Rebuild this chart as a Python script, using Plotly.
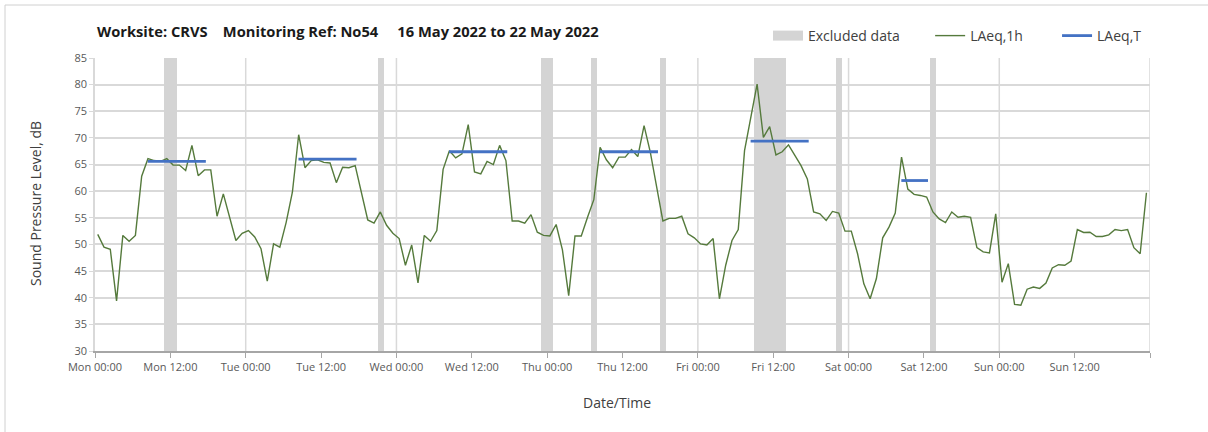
import plotly.graph_objects as go

# ---------------- data ----------------
day_names = ["Mon", "Tue", "Wed", "Thu", "Fri", "Sat", "Sun"]

# LAeq,1h values, one list per day (hours 00..23)
laeq_mon = [51.9, 49.5, 49.1, 39.4, 51.7, 50.6, 51.7, 62.8, 66.1, 65.75, 65.6, 66.1,
            64.9, 64.9, 63.9, 68.6, 62.9, 64.0, 64.0, 55.3, 59.5, 55.1, 50.75, 52.1]
laeq_tue = [52.6, 51.4, 49.2, 43.1, 50.1, 49.5, 54.1, 59.8, 70.6, 64.4, 65.75, 65.9,
            65.4, 65.3, 61.6, 64.5, 64.4, 64.8, 59.5, 54.6, 54.0, 56.1, 53.6, 52.1]
laeq_wed = [51.1, 46.1, 49.9, 42.8, 51.7, 50.6, 52.6, 64.1, 67.6, 66.25, 67.0, 72.5,
            63.6, 63.25, 65.6, 65.0, 68.6, 65.75, 54.4, 54.4, 54.0, 55.6, 52.3, 51.7]
laeq_thu = [51.6, 53.75, 49.0, 40.4, 51.6, 51.6, 55.1, 58.4, 68.25, 65.9, 64.4, 66.4,
            66.4, 67.8, 66.5, 72.3, 67.3, 60.75, 54.4, 54.9, 54.9, 55.3, 52.0, 51.25]
laeq_fri = [50.1, 49.9, 51.1, 39.8, 46.1, 50.75, 52.8, 67.6, 73.9, 80.1, 70.1, 72.1,
            66.8, 67.4, 68.7, 66.7, 64.8, 62.3, 56.1, 55.75, 54.5, 56.2, 55.9, 52.5]
laeq_sat = [52.5, 48.25, 42.6, 39.8, 43.6, 51.25, 53.25, 55.9, 66.4, 60.4, 59.4, 59.2,
            58.9, 56.1, 54.8, 54.1, 56.1, 55.1, 55.3, 55.1, 49.4, 48.6, 48.4, 55.75]
laeq_sun = [42.9, 46.4, 38.75, 38.6, 41.6, 42.0, 41.75, 42.75, 45.6, 46.2, 46.1, 46.9,
            52.8, 52.25, 52.3, 51.5, 51.5, 51.8, 52.8, 52.6, 52.8, 49.4, 48.25, 59.7]
reading_minute = 26  # readings are stamped ~26 min past each hour

# LAeq,T per monitored day (Mon..Sat) and its period (hours of the day)
laeq_t = [65.6, 66.0, 67.4, 67.4, 69.4, 62.0]
period_start_h = [8.4, 8.4, 8.4, 8.4, 8.4, 8.4]
period_end_h = [17.65, 17.65, 17.65, 17.65, 17.65, 12.65]

# Excluded data periods (hours from Mon 00:00)
excl_start_h = [11, 45, 71, 79, 90, 105, 118, 133]
excl_end_h = [13, 46, 73, 80, 91, 110, 119, 134]

y_min, y_max = 30, 85
tick_hours = ["00:00", "12:00"]

# ---------------- build ----------------
all_days = [laeq_mon, laeq_tue, laeq_wed, laeq_thu, laeq_fri, laeq_sat, laeq_sun]
x_1h, y_1h = [], []
for d, vals in enumerate(all_days):
    for h, v in enumerate(vals):
        x_1h.append(d * 24 + h + reading_minute / 60)
        y_1h.append(v)

x_t, y_t = [], []
for d, v in enumerate(laeq_t):
    x_t += [d * 24 + period_start_h[d], d * 24 + period_end_h[d], None]
    y_t += [v, v, None]

excl_x = [(a + b) / 2 for a, b in zip(excl_start_h, excl_end_h)]
excl_w = [b - a for a, b in zip(excl_start_h, excl_end_h)]

tickvals, ticktext = [], []
for d, name in enumerate(day_names):
    for k, t in enumerate(tick_hours):
        tickvals.append(d * 24 + k * 12)
        ticktext.append(f"{name} {t}")
tickvals.append(len(day_names) * 24)
ticktext.append("")

GRID = "#d9d9d9"
EXCL = "#d4d4d4"
FONT = "Open Sans, Lato, sans-serif"
NB = "\u00a0"

fig = go.Figure()
fig.add_trace(go.Bar(
    x=excl_x, y=[y_max - y_min] * len(excl_x), base=[y_min] * len(excl_x),
    width=excl_w, marker=dict(color=EXCL, line=dict(width=0)),
    name="Excluded data", showlegend=False, hoverinfo="skip"))
# legend entry for the excluded-data band (wide grey swatch)
fig.add_trace(go.Scatter(
    x=[None], y=[None], mode="lines", name="Excluded data" + NB * 7,
    line=dict(color=EXCL, width=10), hoverinfo="skip"))
fig.add_trace(go.Scatter(
    x=x_1h, y=y_1h, mode="lines", name="LAeq,1h" + NB * 8,
    line=dict(color="#557a3c", width=1.4)))
fig.add_trace(go.Scatter(
    x=x_t, y=y_t, mode="lines", name="LAeq,T",
    line=dict(color="#4472c4", width=2.8)))

# Plot geometry in pixels
W, H = 1208, 432
L, R, T, B = 95, 58, 58, 81
pw, ph = W - L - R, H - T - B


def px(xp):
    return (xp - L) / pw


def py(yp):
    return (H - B - yp) / ph


shapes = []
for d in range(1, len(day_names) + 1):
    shapes.append(dict(type="line", xref="x", yref="paper", x0=d * 24, x1=d * 24,
                       y0=0, y1=1, line=dict(color=GRID, width=1.5), layer="below"))
# outer chart border (top and left visible)
shapes.append(dict(type="line", xref="paper", yref="paper", x0=px(5), x1=px(1210),
                   y0=py(5), y1=py(5), line=dict(color="#d0d0d0", width=1)))
shapes.append(dict(type="line", xref="paper", yref="paper", x0=px(5), x1=px(5),
                   y0=py(5), y1=py(440), line=dict(color="#d0d0d0", width=1)))

title_text = ("Worksite: CRVS" + NB * 4 + "Monitoring Ref: No54" + NB * 5 +
              "16 May 2022 to 22 May 2022")

fig.update_layout(
    width=W, height=H,
    margin=dict(l=L, r=R, t=T, b=B, autoexpand=False),
    paper_bgcolor="white", plot_bgcolor="white",
    font=dict(family=FONT, color="#404040"),
    showlegend=True,
    legend=dict(orientation="h", x=px(1147), xanchor="right", y=py(36), yanchor="middle",
                font=dict(size=14, color="#404040"), itemwidth=30,
                bgcolor="rgba(0,0,0,0)", traceorder="normal"),
    title=dict(text=title_text,
               x=97 / W, xref="container", xanchor="left",
               y=1 - 32 / H, yref="container", yanchor="middle",
               font=dict(size=14.7, family=FONT, color="#1a1a1a", weight="bold")),
    bargap=0,
    shapes=shapes,
    annotations=[
        dict(text="Sound Pressure Level, dB", xref="paper", yref="paper",
             x=px(35), y=py(204), textangle=-90, showarrow=False,
             xanchor="center", yanchor="middle", font=dict(size=14, color="#404040")),
        dict(text="Date/Time", xref="paper", yref="paper",
             x=px(617), y=py(402), showarrow=False,
             xanchor="center", yanchor="middle", font=dict(size=14, color="#404040")),
    ],
)

fig.update_xaxes(
    range=[0, len(day_names) * 24], tickmode="array", tickvals=tickvals, ticktext=ticktext,
    showgrid=False, zeroline=False, showline=True, linecolor="#a6a6a6", linewidth=1.5,
    ticks="outside", ticklen=5, tickcolor="#a6a6a6", tickwidth=1,
    tickfont=dict(size=11, color="#595959"), fixedrange=True)
fig.update_yaxes(
    range=[y_min, y_max], dtick=5, tick0=30, showgrid=True, gridcolor=GRID, gridwidth=1.5,
    zeroline=False, showline=True, linecolor=GRID, linewidth=1.5,
    ticks="outside", ticklen=4, tickcolor=GRID,
    tickfont=dict(size=11, color="#595959"), fixedrange=True)

fig.write_html("out.html",
               config={"displayModeBar": False},
               post_script="document.body.style.margin='0';document.body.style.overflow='hidden';")
